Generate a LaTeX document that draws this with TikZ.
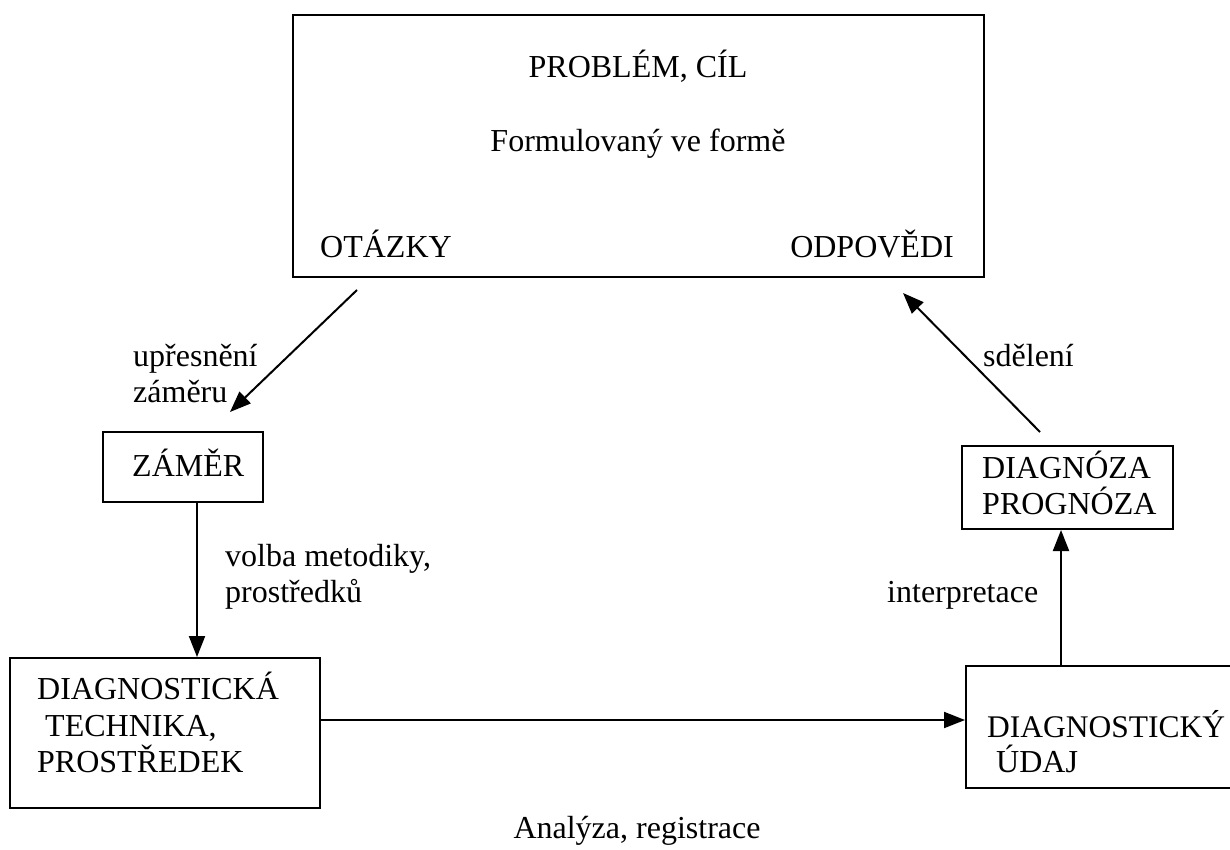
\documentclass[tikz,border=0pt]{standalone}
\usepackage{fontspec}
\setmainfont{Liberation Serif}
\usetikzlibrary{arrows.meta}
\tikzset{
  lbl/.style={anchor=base west,inner sep=0pt,font=\fontsize{32}{37}\selectfont},
  lblc/.style={anchor=base,inner sep=0pt,font=\fontsize{32}{37}\selectfont},
  lble/.style={anchor=base east,inner sep=0pt,font=\fontsize{32}{37}\selectfont},
  boxline/.style={draw=black,line width=2pt},
  conn/.style={line width=2pt,-{Triangle[length=21pt,width=16pt]}},
}
\begin{document}
\begin{tikzpicture}[x=1pt,y=-1pt]
\path[use as bounding box,clip] (0,0) rectangle (1230,850);
% boxes
\draw[boxline] (293,15) rectangle (984,277);
\draw[boxline] (103,432) rectangle (263,502);
\draw[boxline] (10,658) rectangle (320,808);
\draw[boxline] (962,446) rectangle (1173,529);
\draw[boxline] (966,666) rectangle (1260,788);
% named anchor points
\coordinate (zamerTop) at (230,412);
\coordinate (zamerBot) at (197,503);
\coordinate (techTop) at (197,657);
\coordinate (techRight) at (321,720);
\coordinate (udajLeft) at (965,720);
\coordinate (udajTop) at (1061,665);
\coordinate (diagBot) at (1061,530);
\coordinate (diagTop) at (1040,432);
\coordinate (probBotL) at (357,290);
\coordinate (probBotR) at (903,293);
% texts
\node[lblc] (problem) at (638,78) {PROBLÉM, CÍL};
\node[lblc] (form) at (638,152) {Formulovaný ve formě};
\node[lbl] (otazky) at (320,258) {OTÁZKY};
\node[lble] (odpovedi) at (954,258) {ODPOVĚDI};
\node[lbl] (upr1) at (133,366) {upřesnění};
\node[lbl] (upr2) at (133,402) {záměru};
\node[lbl] (zamer) at (132,476) {ZÁMĚR};
\node[lbl] (volba1) at (225,566) {volba metodiky,};
\node[lbl] (volba2) at (225,602) {prostředků};
\node[lbl] (interp) at (887,602) {interpretace};
\node[lbl] (sdeleni) at (983,366) {sdělení};
\node[lbl] (tech1) at (37,699) {DIAGNOSTICKÁ};
\node[lbl] (tech2) at (45,736) {TECHNIKA,};
\node[lbl] (tech3) at (37,772) {PROSTŘEDEK};
\node[lbl,font=\fontsize{31.5}{37}\selectfont] (udaj1) at (987,737) {DIAGNOSTICKÝ};
\node[lbl] (udaj2) at (996,772) {ÚDAJ};
\node[lbl] (diag1) at (982,478) {DIAGNÓZA};
\node[lbl] (diag2) at (982,514) {PROGNÓZA};
\node[lblc] (analyza) at (637,838) {Analýza, registrace};
% connectors
\draw[conn] (probBotL) -- (zamerTop);
\draw[conn] (zamerBot) -- (techTop);
\draw[conn] (techRight) -- (udajLeft);
\draw[conn] (udajTop) -- (diagBot);
\draw[conn] (diagTop) -- (probBotR);
\end{tikzpicture}
\end{document}
